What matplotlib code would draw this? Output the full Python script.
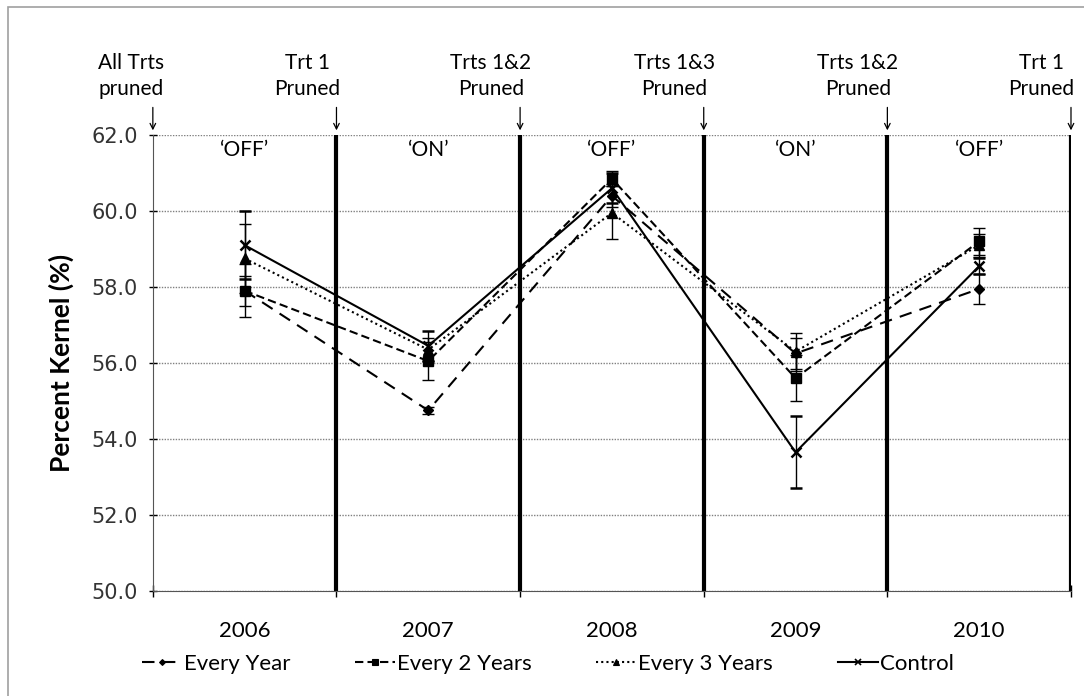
import matplotlib.pyplot as plt
from matplotlib.patches import Rectangle
from matplotlib.lines import Line2D

# Data
years = ['2006', '2007', '2008', '2009', '2010']
phase = ["\u2018OFF\u2019", "\u2018ON\u2019", "\u2018OFF\u2019", "\u2018ON\u2019", "\u2018OFF\u2019"]
prune_notes = ['All Trts\npruned', 'Trt 1\nPruned', 'Trts 1&2\nPruned',
               'Trts 1&3\nPruned', 'Trts 1&2\nPruned', 'Trt 1\nPruned']

every_year = [57.9, 54.75, 60.4, 56.25, 57.95]
every_year_err = [0.7, 0.1, 0.3, 0.4, 0.4]
every_2_years = [57.9, 56.05, 60.85, 55.6, 59.2]
every_2_years_err = [0.4, 0.5, 0.2, 0.6, 0.35]
every_3_years = [58.75, 56.35, 59.95, 56.3, 59.1]
every_3_years_err = [0.9, 0.3, 0.7, 0.5, 0.3]
control = [59.1, 56.45, 60.6, 53.65, 58.55]
control_err = [0.9, 0.4, 0.4, 0.95, 0.2]

plt.rcParams['font.family'] = ['Lato', 'DejaVu Sans']

fig = plt.figure(figsize=(10.84, 6.96), dpi=100)
ax = fig.add_axes([0.141, 0.151, 0.847, 0.655])

# light frame around the whole chart
fig.patches.append(Rectangle((0.007, -0.01), 1.1, 1.0, transform=fig.transFigure,
                             fill=False, edgecolor='#a0a0a0', linewidth=1.2))

x = list(range(len(years)))
series = [
    ('Every Year', every_year, every_year_err, 'D', 5, (0, (6, 4))),
    ('Every 2 Years', every_2_years, every_2_years_err, 's', 7, (0, (4, 2))),
    ('Every 3 Years', every_3_years, every_3_years_err, '^', 7, (0, (1, 1.5))),
    ('Control', control, control_err, 'x', 7, '-'),
]
handles = []
for name, vals, errs, mk, ms, ls in series:
    ax.errorbar(x, vals, yerr=errs, color='black', marker=mk, markersize=ms,
                markeredgewidth=1.8 if mk == 'x' else 1, linestyle=ls,
                linewidth=1.5, elinewidth=1, capsize=4, capthick=1, zorder=3)
    handles.append(Line2D([], [], color='black', marker=mk, markersize=ms * 0.6,
                          markeredgewidth=1.2 if mk == 'x' else 0.8,
                          linestyle=ls, linewidth=1.5, label=name))

# section dividers
for b in [0.5, 1.5, 2.5, 3.5, 4.5]:
    ax.axvline(b, color='black', linewidth=3, zorder=2)

ax.set_xlim(-0.5, 4.5)
ax.set_ylim(50, 62)
ax.set_yticks([50, 52, 54, 56, 58, 60, 62])
ax.set_yticklabels([f'{v:.1f}' for v in [50, 52, 54, 56, 58, 60, 62]],
                   fontfamily='DejaVu Sans', fontsize=15, color='#333333')
ax.set_xticks(x)
ax.set_xticklabels(years, fontsize=16)
ax.set_xticks([-0.5, 0.5, 1.5, 2.5, 3.5, 4.5], minor=True)
ax.tick_params(axis='x', which='major', length=0, pad=22)
ax.tick_params(axis='x', which='minor', length=8, direction='inout', width=1)
ax.tick_params(axis='y', length=6, direction='inout', width=1, pad=8)

ax.grid(axis='y', linestyle=(0, (1, 1)), color='#808080', linewidth=1)
ax.set_axisbelow(True)
for s in ['top', 'right']:
    ax.spines[s].set_visible(False)
ax.spines['left'].set_color('#555555')
ax.spines['bottom'].set_color('#555555')

ax.set_ylabel('Percent Kernel (%)', fontsize=19, fontweight='bold', labelpad=12)

# 'ON' / 'OFF' labels
for i, p in enumerate(phase):
    ax.text(i, 61.6, p, ha='center', va='center', fontsize=15)

# pruning notes with arrows above the plot
for i, note in enumerate(prune_notes):
    bx = i - 0.5
    ax.annotate('', xy=(bx, 62.05), xytext=(bx, 62.8), xycoords='data',
                arrowprops=dict(arrowstyle='->', color='black', lw=0.9),
                annotation_clip=False)
    ax.text(bx - 0.16 if i > 0 else bx - 0.12, 62.95, note, ha='center', va='bottom',
            fontsize=15, linespacing=1.35, clip_on=False)

ax.legend(handles=handles, loc='upper center', bbox_to_anchor=(0.43, -0.095),
          ncol=4, frameon=False, fontsize=16, handlelength=1.8,
          handletextpad=0.1, columnspacing=2.9)

plt.savefig('out.png', dpi=100)
